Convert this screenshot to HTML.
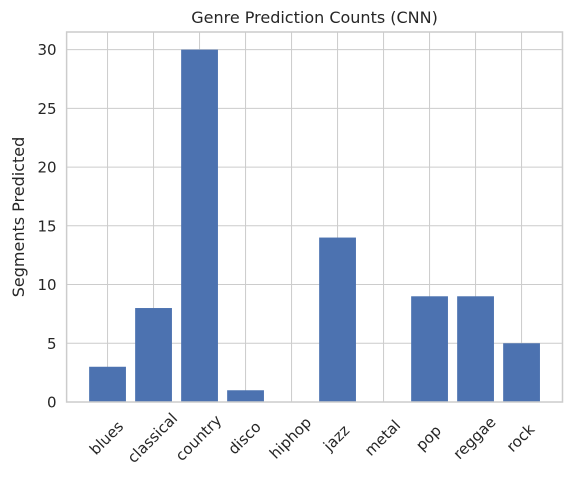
<!DOCTYPE html>
<html><head><meta charset="utf-8"><style>
body{margin:0;background:#fff;}
text{font-family:"DejaVu Sans","Liberation Sans",sans-serif;fill:#262626;}
</style></head><body>
<svg id="chart" width="572" height="481"></svg>
<script>
const categories=["blues","classical","country","disco","hiphop","jazz","metal","pop","reggae","rock"];
const counts=[3,8,30,1,0,14,0,9,9,5];
const yTicks=[0,5,10,15,20,25,30];
const L=66.6,R=562.5,T=32,B=402;
const xmin=-0.89,xmax=9.89,ymin=0,ymax=31.5;
const X=v=>L+(v-xmin)/(xmax-xmin)*(R-L);
const Y=v=>B-(v-ymin)/(ymax-ymin)*(B-T);
const svg=document.getElementById('chart');
const NS='http://www.w3.org/2000/svg';
function mk(tag,a){const e=document.createElementNS(NS,tag);for(const k in a)e.setAttribute(k,a[k]);svg.appendChild(e);return e;}
let e=mk('rect',{x:L,y:T,width:R-L,height:B-T,fill:'#fff'});


yTicks.forEach(t=>{
 const g=mk('line',{x1:L,x2:R,y1:Y(t),y2:Y(t),stroke:'#cccccc','stroke-width':1});
 
 
 const tx=mk('text',{x:L-10,y:Y(t)+5.5,'text-anchor':'end','font-size':15});
 tx.textContent=t;
 
 
});
categories.forEach((c,i)=>{
 const g=mk('line',{x1:X(i),x2:X(i),y1:T,y2:B,stroke:'#cccccc','stroke-width':1});
 
 
});
categories.forEach((c,i)=>{
 const b=mk('rect',{x:X(i-0.4),y:Y(counts[i]),width:X(0.4)-X(-0.4),height:Y(0)-Y(counts[i]),fill:'#4c72b0'});
 
 
 const cx=X(i)-1,cy=438;
 const tx=mk('text',{x:cx,y:cy+5,'text-anchor':'middle','font-size':15,transform:`rotate(-45 ${cx} ${cy})`});
 tx.textContent=c;
 
 
});
e=mk('rect',{x:L,y:T,width:R-L,height:B-T,fill:'none',stroke:'#cccccc','stroke-width':1.5});


e=mk('text',{x:(L+R)/2,y:23,'text-anchor':'middle','font-size':16});
e.textContent='Genre Prediction Counts (CNN)';


e=mk('text',{x:24,y:(T+B)/2,'text-anchor':'middle','font-size':16,transform:`rotate(-90 24 ${(T+B)/2})`});
e.textContent='Segments Predicted';


</script>
</body></html>
